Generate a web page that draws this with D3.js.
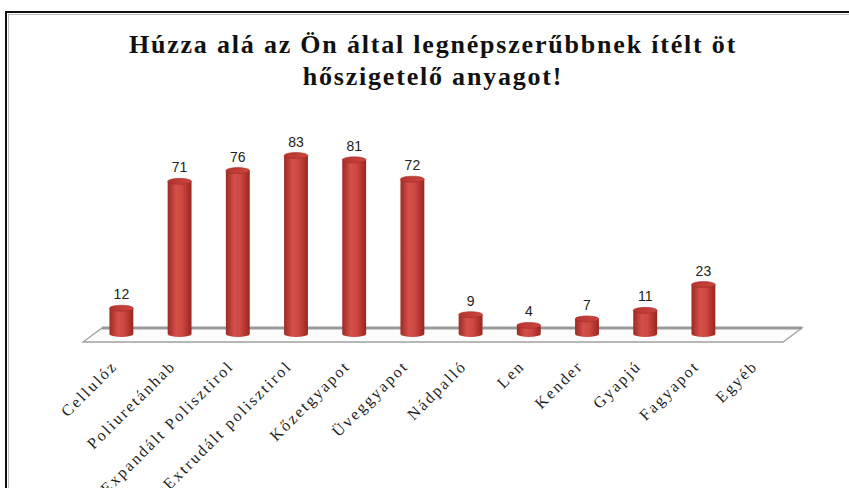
<!DOCTYPE html>
<html>
<head>
<meta charset="utf-8">
<script src="https://cdn.jsdelivr.net/npm/d3@7"></script>
<style>
  html, body { margin: 0; padding: 0; background: #fff; }
  svg { display: block; }
</style>
</head>
<body>
<svg id="chart" width="849" height="488"></svg>
<script>
const titleLines = ["Húzza alá az Ön által legnépszerűbbnek ítélt öt", "hőszigetelő anyagot!"];
const categories = ["Cellulóz", "Poliuretánhab", "Expandált Polisztirol", "Extrudált polisztirol", "Kőzetgyapot", "Üveggyapot", "Nádpalló", "Len", "Kender", "Gyapjú", "Fagyapot", "Egyéb"];
const values = [12, 71, 76, 83, 81, 72, 9, 4, 7, 11, 23, 0];

const svg = d3.select("#chart");

// frame
svg.append("rect").attr("x", 6).attr("y", 12).attr("width", 900).attr("height", 600)
  .attr("fill", "#fff").attr("stroke", "#111").attr("stroke-width", 2);
svg.append("rect").attr("x", 8.5).attr("y", 14.5).attr("width", 900).attr("height", 600)
  .attr("fill", "none").attr("stroke", "#bbb").attr("stroke-width", 1);

// title
const title = svg.append("text").attr("text-anchor", "middle")
  .attr("font-family", "'Liberation Serif', 'Times New Roman', serif")
  .attr("font-weight", "bold").attr("font-size", 26).attr("fill", "#111")
  .attr("letter-spacing", 1.8);
titleLines.forEach((t, i) => {
  title.append("tspan").attr("x", 433).attr("y", 53 + i * 32).text(t);
});

// scales
const x = d3.scaleBand().domain(categories).range([92, 791]).paddingInner(0.59).paddingOuter(0.3);
const y = d3.scaleLinear().domain([0, 100]).range([334, 119]);

// floor (3D plane)
const backY = 328, frontY = 342, depthDx = 19;
const fx0 = 102, fx1 = 802;
svg.append("path")
  .attr("d", `M${fx0},${backY} L${fx1},${backY} L${fx1 - depthDx},${frontY} L${fx0 - depthDx},${frontY} Z`)
  .attr("fill", "#fcfcfc").attr("stroke", "#a0a0a0").attr("stroke-width", 1.3);
svg.append("line").attr("x1", fx0).attr("x2", fx1).attr("y1", backY).attr("y2", backY)
  .attr("stroke", "#9a9a9a").attr("stroke-width", 3);

// gradient for cylinders
const defs = svg.append("defs");
const grad = defs.append("linearGradient").attr("id", "cyl").attr("x1", "0%").attr("x2", "100%");
grad.append("stop").attr("offset", "0%").attr("stop-color", "#9c2a24");
grad.append("stop").attr("offset", "35%").attr("stop-color", "#d4504a");
grad.append("stop").attr("offset", "60%").attr("stop-color", "#cf4842");
grad.append("stop").attr("offset", "100%").attr("stop-color", "#98261f");
const topGrad = defs.append("linearGradient").attr("id", "cyltop").attr("x1", "0%").attr("x2", "100%");
topGrad.append("stop").attr("offset", "0%").attr("stop-color", "#b8342e");
topGrad.append("stop").attr("offset", "100%").attr("stop-color", "#c9453f");

const data = categories.map((c, i) => ({ c, v: values[i] }));
const bw = x.bandwidth();
const ry = 3;
const bottomY = y(0);

const bars = svg.append("g").selectAll("g").data(data.filter(d => d.v > 0)).join("g");
bars.append("path")
  .attr("d", d => {
    const x0 = x(d.c), x1 = x0 + bw, top = y(d.v);
    return `M${x0},${top} L${x0},${bottomY} A${bw / 2},${ry} 0 0 0 ${x1},${bottomY} L${x1},${top} Z`;
  })
  .attr("fill", "url(#cyl)");
bars.append("ellipse")
  .attr("cx", d => x(d.c) + bw / 2).attr("cy", d => y(d.v))
  .attr("rx", bw / 2).attr("ry", ry)
  .attr("fill", "url(#cyltop)").attr("stroke", "#a02c26").attr("stroke-width", 0.6);

// value labels
svg.append("g").selectAll("text").data(data.filter(d => d.v > 0)).join("text")
  .attr("x", d => x(d.c) + bw / 2).attr("y", d => y(d.v) - 9)
  .attr("text-anchor", "middle")
  .attr("font-family", "'Liberation Sans', Arial, sans-serif").attr("font-size", 14)
  .attr("fill", "#222").text(d => d.v);

// category labels
svg.append("g").selectAll("text").data(data).join("text")
  .attr("transform", d => `translate(${x(d.c) + bw / 2 - 3},${367}) rotate(-45)`)
  .attr("text-anchor", "end")
  .attr("font-family", "'Liberation Serif', 'Times New Roman', serif").attr("font-size", 16)
  .attr("letter-spacing", 2.2)
  .attr("fill", "#222").text(d => d.c);
</script>
</body>
</html>
